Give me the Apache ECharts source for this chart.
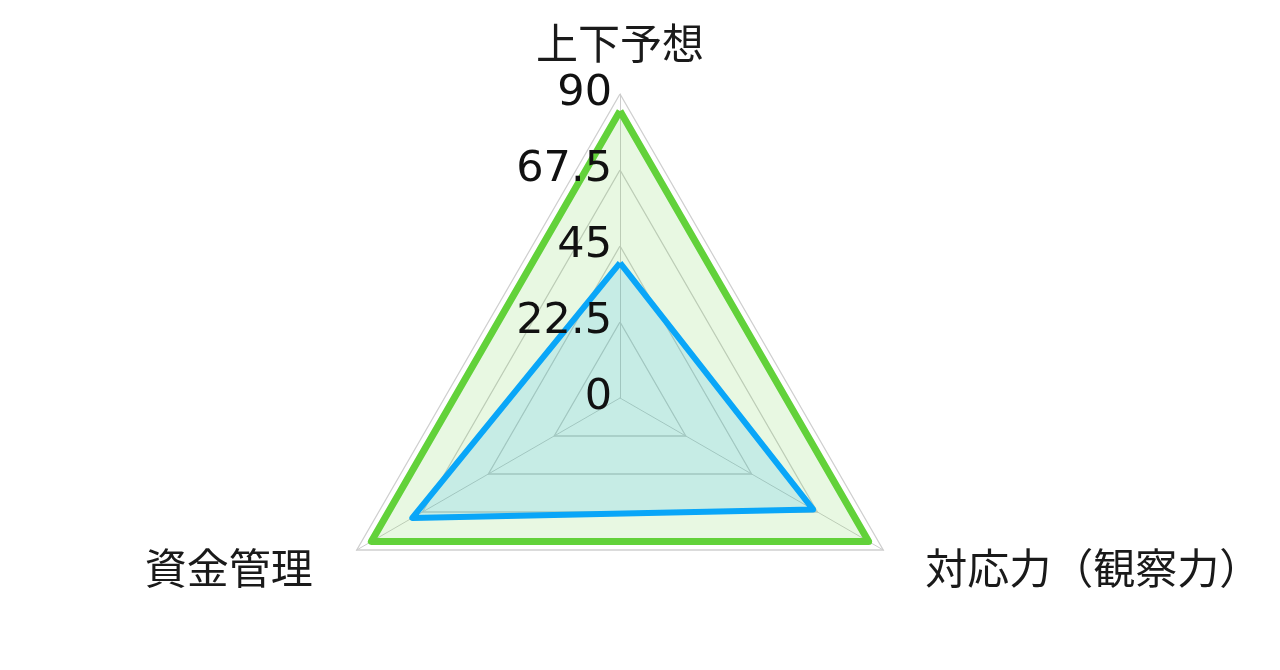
<!DOCTYPE html>
<html>
<head>
<meta charset="utf-8">
<script src="https://cdn.jsdelivr.net/npm/echarts@6/dist/echarts.min.js"></script>
<style>html,body{margin:0;padding:0;background:#fff}#c{width:1280px;height:670px}</style>
</head>
<body>
<div id="c"></div>
<script>
const indicators = ['上下予想', '資金管理', '対応力（観察力）'];
const maxValue = 90;
const greenValues = [85, 85, 85];
const blueValues = [40, 71, 66];

const CENTER = [620, 398];
const RADIUS = 304;

const chart = echarts.init(document.getElementById('c'));
chart.setOption({
  animation: false,
  radar: [{
    z: 0,
    center: CENTER,
    radius: RADIUS,
    startAngle: 90,
    splitNumber: 4,
    shape: 'polygon',
    indicator: indicators.map(n => ({ name: n, max: maxValue, min: 0 })),
    nameGap: 30,
    axisName: {
      color: '#1a1a1a',
      fontSize: 42,
      fontFamily: 'Noto Sans CJK JP',
      formatter: function (name) {
        if (name === indicators[1]) return '{l|' + name + '}';
        if (name === indicators[2]) return '{r|' + name + '}';
        return name;
      },
      rich: {
        l: { fontSize: 42, fontFamily: 'Noto Sans CJK JP', color: '#1a1a1a', padding: [6, 18, 0, 0] },
        r: { fontSize: 42, fontFamily: 'Noto Sans CJK JP', color: '#1a1a1a', padding: [6, 0, 0, 16] }
      }
    },
    axisLine: { lineStyle: { color: '#cccccc', width: 1 } },
    splitLine: { lineStyle: { color: ['#cccccc', '#cccccc', '#cccccc', '#cccccc', '#cfcfcf'], width: 1.3 } },
    splitArea: { show: false },
    axisTick: { show: false },
    axisLabel: { show: false }
  }, {
    z: 5,
    center: CENTER,
    radius: RADIUS,
    startAngle: 90,
    splitNumber: 4,
    shape: 'polygon',
    indicator: indicators.map((n, i) => ({
      name: n, max: maxValue, min: 0,
      axisLabel: { show: i === 0 }
    })),
    axisName: { show: false },
    axisLine: { show: false },
    splitLine: { show: false },
    splitArea: { show: false },
    axisTick: { show: false },
    axisLabel: {
      show: true,
      fontSize: 43,
      fontFamily: 'DejaVu Sans',
      color: '#111',
      margin: 8,
      formatter: v => String(v)
    }
  }],
  series: [{
    type: 'radar',
    radarIndex: 0,
    symbol: 'none',
    data: [
      { value: greenValues, lineStyle: { color: '#62d23a', width: 7 }, areaStyle: { color: '#62d23a', opacity: 0.15 } },
      { value: blueValues, lineStyle: { color: '#0aa6f8', width: 6 }, areaStyle: { color: '#0aa6f8', opacity: 0.15 } }
    ]
  }]
});
</script>
</body>
</html>
